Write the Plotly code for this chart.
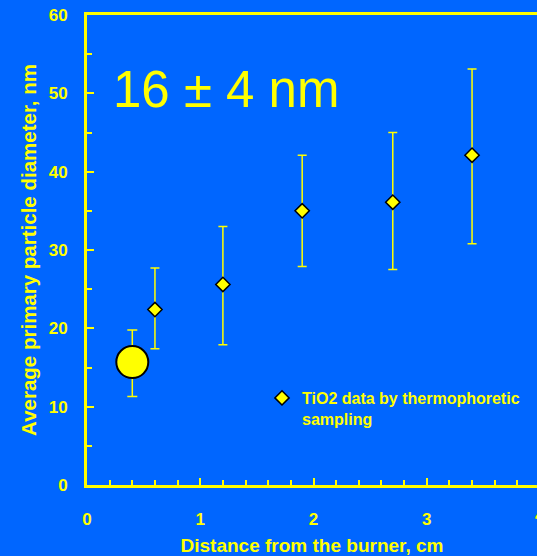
import plotly.graph_objects as go

# Data
dist_cm = [0.6, 1.2, 1.9, 2.7, 3.4]
diam_nm = [22.4, 25.6, 35.0, 36.1, 42.1]
err_plus = [5.3, 7.4, 7.1, 8.9, 11.0]
err_minus = [5.0, 7.7, 7.1, 8.6, 11.3]

model_x = [0.4]
model_y = [15.7]
model_plus = [4.1]
model_minus = [4.4]

series_name = "TiO2 data by thermophoretic<br>sampling"
big_label = "16 \u00b1 4 nm"

BG = "#0066FF"
YEL = "#FFFF00"
FONT = "Liberation Sans, Arial, sans-serif"

fig = go.Figure()

fig.add_trace(go.Scatter(
    x=model_x, y=model_y, mode="markers", showlegend=False,
    marker=dict(symbol="circle", size=32, color=YEL, line=dict(color="black", width=2)),
    error_y=dict(type="data", symmetric=False, array=model_plus, arrayminus=model_minus,
                 color=YEL, thickness=1.5, width=5),
))

fig.add_trace(go.Scatter(
    x=dist_cm, y=diam_nm, mode="markers", name=series_name,
    marker=dict(symbol="diamond", size=11, color=YEL, line=dict(color="black", width=1.5)),
    error_y=dict(type="data", symmetric=False, array=err_plus, arrayminus=err_minus,
                 color=YEL, thickness=1.5, width=4.5),
))

axis_font = dict(family=FONT, size=17, color=YEL, weight="bold")

fig.update_xaxes(
    range=[0, 4 * 450 / 453], tickvals=[0, 1, 2, 3], showgrid=False, zeroline=False,
    showline=True, linecolor=YEL, linewidth=3, mirror=True,
    ticks="inside", ticklen=7, tickwidth=2, tickcolor=YEL,
    minor=dict(dtick=0.2, tick0=0, ticks="inside", ticklen=5, tickwidth=2, tickcolor=YEL),
    tickfont=axis_font, ticklabelstandoff=17,
    title=dict(text="Distance from the burner, cm",
               font=dict(family=FONT, size=19, color=YEL, weight="bold"), standoff=11),
)
fig.update_yaxes(
    range=[0, 60], dtick=10, showgrid=False, zeroline=False,
    showline=True, linecolor=YEL, linewidth=3, mirror=False,
    ticks="inside", ticklen=7, tickwidth=2, tickcolor=YEL,
    minor=dict(dtick=5, tick0=0, ticks="inside", ticklen=5, tickwidth=2, tickcolor=YEL),
    tickfont=axis_font, ticklabelstandoff=13,
    title=dict(text="Average primary particle diameter, nm",
               font=dict(family=FONT, size=20.5, color=YEL, weight="bold"), standoff=7),
)

fig.add_annotation(
    text=big_label, xref="paper", yref="paper", x=(226 - 87) / 450, y=(485 - 90) / 470,
    showarrow=False, font=dict(family=FONT, size=51, color=YEL), xanchor="center", yanchor="middle",
)
# partially visible tick label "4" at the cut-off right edge
fig.add_annotation(
    text="4", xref="paper", yref="paper", x=(540 - 87) / 450, y=-(515 - 485) / 470,
    showarrow=False, font=axis_font, xanchor="center", yanchor="middle",
)

fig.update_layout(
    width=537, height=556,
    margin=dict(l=87, r=0, t=15, b=71, autoexpand=False),
    paper_bgcolor=BG, plot_bgcolor=BG,
    font=dict(family=FONT, color=YEL),
    legend=dict(x=(262 - 87) / 450, y=(485 - 381) / 470, xanchor="left", yanchor="top",
                bgcolor="rgba(0,0,0,0)", valign="top",
                font=dict(family=FONT, size=16, color=YEL, weight="bold")),
)

fig.write_html("out.html", config={"displayModeBar": False},
               post_script="document.body.style.margin='0';document.body.style.overflow='hidden';")
